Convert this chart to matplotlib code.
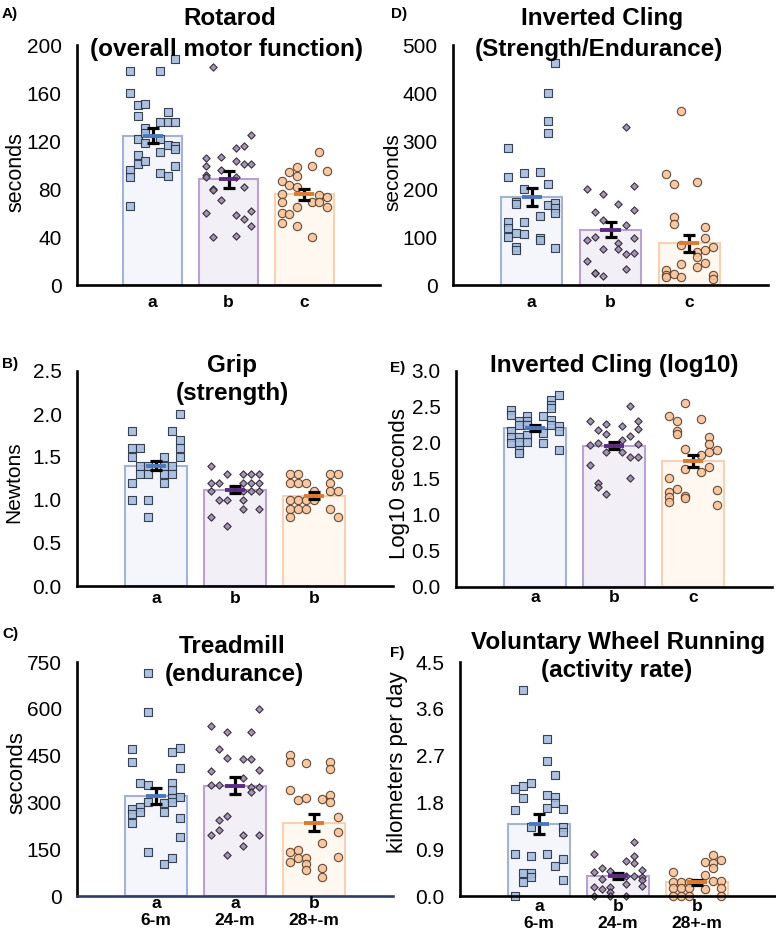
import matplotlib
matplotlib.use("Agg")
import matplotlib.pyplot as plt
import numpy as np
from matplotlib.transforms import blended_transform_factory

plt.rcParams['font.family'] = ['Liberation Sans', 'DejaVu Sans']

# ---------------- data ----------------
groups = ["6-m", "24-m", "28+-m"]

# A) Rotarod (seconds)
rot_6m = [178, 160, 96, 90, 66, 150, 141, 122, 108, 101, 151, 131, 127, 118, 103,
          178, 136, 122, 111, 93, 144, 136, 117, 91, 188, 136, 116, 113, 99]
rot_24m = [106, 99, 92, 90, 60, 182, 80, 79, 40, 107, 96, 71, 114, 103, 90, 58, 41,
           116, 101, 82, 55, 125, 101, 62, 49]
rot_28m = [87, 76, 69, 60, 52, 94, 83, 59, 98, 91, 82, 65, 49, 99, 69, 40,
           111, 75, 69, 95, 73, 65]
rot_mean = [124.5, 88, 75.6]
rot_sem = [6, 6.8, 4.5]
rot_letters = ["a", "b", "c"]

# B) Grip (Newtons)
grip_6m = [1.8, 1.6, 1.5, 1.2, 1.0, 1.6, 1.4, 1.3, 1.4, 1.3, 1.0, 0.8,
           1.5, 1.4, 1.3, 1.2, 1.8, 1.4, 1.3, 2.0, 1.7, 1.6, 1.5]
grip_24m = [1.4, 1.2, 1.1, 0.8, 1.2, 1.0, 1.3, 1.0, 0.7, 1.3, 1.2, 1.1, 1.0, 0.9,
            1.3, 1.2, 1.1, 1.3, 1.2, 1.1, 0.9]
grip_28m = [1.3, 1.2, 1.0, 0.9, 0.8, 1.3, 1.2, 1.0, 0.9, 1.2, 1.0, 0.9, 1.1, 1.0,
            1.3, 1.2, 1.1, 0.9, 1.3, 1.1, 0.8]
grip_mean = [1.40, 1.12, 1.05]
grip_sem = [0.05, 0.04, 0.04]
grip_letters = ["a", "b", "b"]

# C) Treadmill (seconds)
tread_6m = [471, 428, 279, 262, 235, 361, 286, 270, 714, 589, 356, 302, 142,
            297, 270, 102, 462, 361, 340, 313, 302, 123, 475, 409, 318, 249, 188]
tread_24m = [546, 402, 356, 196, 471, 356, 244, 212, 525, 443, 256, 131,
             438, 377, 196, 160, 525, 438, 348, 334, 599, 404, 350, 196]
tread_28m = [452, 428, 340, 140, 108, 308, 147, 121, 425, 315, 121, 102, 83,
             311, 169, 91, 60, 431, 407, 324, 302, 254, 206, 126]
tread_mean = [320, 353, 235]
tread_sem = [25, 27, 27]
tread_letters = ["a", "a", "b"]

# D) Inverted cling (seconds)
cling_6m = [285, 226, 132, 119, 101, 172, 168, 108, 80, 72, 233, 201, 131, 106,
            236, 144, 97, 94, 401, 342, 317, 210, 167, 463, 170, 160, 149, 78]
cling_24m = [199, 94, 49, 153, 99, 26, 24, 189, 135, 74, 19, 168, 88, 76,
             330, 125, 65, 33, 206, 156, 97, 66]
cling_28m = [231, 31, 21, 16, 210, 141, 128, 22, 363, 83, 43, 16, 214, 68, 58, 38,
             120, 97, 73, 46, 80, 21, 13]
cling_mean = [184, 115, 87]
cling_sem = [19, 16, 18]
cling_letters = ["a", "b", "c"]

# E) Inverted cling (log10 seconds)
log_6m = [2.46, 2.39, 2.16, 2.09, 2.00, 2.30, 2.25, 2.09, 2.02, 1.90, 1.86,
          2.37, 2.30, 2.25, 2.11, 2.02, 2.37, 2.14, 2.00,
          2.60, 2.53, 2.48, 2.32, 2.25, 2.66, 2.23, 2.16, 1.90]
log_24m = [2.30, 1.97, 1.69, 2.18, 2.00, 1.45, 1.39, 2.27, 2.13, 1.88, 1.29,
           2.23, 2.04, 1.88, 2.51, 2.10, 1.81, 1.52, 2.31, 2.19, 1.99, 1.81]
log_28m = [2.37, 1.51, 1.32, 1.25, 1.18, 2.31, 2.16, 2.12, 1.36,
           2.55, 1.91, 1.64, 1.26, 1.24, 2.33, 1.83, 1.60,
           2.08, 1.99, 1.88, 1.67, 1.90, 1.35, 1.14]
log_mean = [2.21, 1.96, 1.75]
log_sem = [0.045, 0.05, 0.09]
log_letters = ["a", "b", "c"]

# F) Voluntary wheel running (km per day)
wheel_6m = [2.05, 1.65, 0.81, 0.00, 3.97, 2.12, 1.88, 0.44, 0.26,
            2.18, 1.33, 0.77, 0.45, 0.37, 3.02, 2.60, 1.94, 1.70, 0.81,
            2.33, 1.91, 1.78, 0.58, 1.67, 1.33, 1.24, 0.71, 0.31]
wheel_24m = [0.80, 0.46, 0.18, 0.00, 0.53, 0.32, 0.13, 0.49, 0.18, 0.08, 0.00,
             0.67, 0.38, 0.23, 0.00, 1.04, 0.76, 0.64, 0.38, 0.50, 0.37, 0.30, 0.20]
wheel_28m = [0.47, 0.27, 0.15, 0.00, 0.27, 0.15, 0.00, 0.27, 0.15, 0.00,
             0.65, 0.40, 0.13, 0.79, 0.64, 0.53, 0.29, 0.69, 0.28, 0.15, 0.00]
wheel_mean = [1.38, 0.38, 0.26]
wheel_sem = [0.19, 0.06, 0.05]
wheel_letters = ["a", "b", "b"]

# jitter columns, one entry per point
rot_6m_j = [-3]*5 + [-2]*5 + [-1]*5 + [1]*5 + [2]*4 + [3]*5
rot_24m_j = [-3]*5 + [-2]*4 + [-1]*3 + [1]*5 + [2]*4 + [3]*4
rot_28m_j = [-3]*5 + [-2]*3 + [-1]*5 + [1]*3 + [2]*3 + [3]*3
grip_6m_j = [-3]*5 + [-2]*3 + [-1]*4 + [1]*4 + [2]*3 + [3]*4
grip_24m_j = [-3]*4 + [-2]*2 + [-1]*3 + [1]*5 + [2]*3 + [3]*4
grip_28m_j = [-3]*5 + [-2]*4 + [-1]*3 + [0]*2 + [2]*4 + [3]*3
tread_6m_j = [-3]*5 + [-2]*3 + [-1]*5 + [1]*3 + [2]*6 + [3]*5
tread_24m_j = [-3]*4 + [-2]*4 + [-1]*4 + [1]*4 + [2]*4 + [3]*4
tread_28m_j = [-3]*5 + [-2]*3 + [-1]*5 + [1]*4 + [2]*4 + [3]*3
cling_6m_j = [-3]*5 + [-2]*5 + [-1]*4 + [1]*4 + [2]*5 + [3]*5
cling_24m_j = [-3]*3 + [-2]*4 + [-1]*4 + [1]*3 + [2]*4 + [3]*4
cling_28m_j = [-3]*4 + [-2]*4 + [-1]*4 + [1]*4 + [2]*4 + [3]*3
log_6m_j = [-3]*5 + [-2]*6 + [-1]*5 + [1]*3 + [2]*5 + [3]*4
log_24m_j = [-3]*3 + [-2]*4 + [-1]*4 + [1]*3 + [2]*4 + [3]*4
log_28m_j = [-3]*5 + [-2]*4 + [-1]*5 + [1]*3 + [2]*4 + [3]*3
wheel_6m_j = [-3]*4 + [-2]*5 + [-1]*5 + [1]*5 + [2]*4 + [3]*5
wheel_24m_j = [-3]*4 + [-2]*3 + [-1]*4 + [1]*4 + [2]*4 + [3]*4
wheel_28m_j = [-3]*4 + [-2]*3 + [-1]*3 + [1]*3 + [2]*4 + [3]*4

# ---------------- style ----------------
W, H = 776, 934
fig = plt.figure(figsize=(W / 100, H / 100), dpi=100)

BAR_FILL = ['#F4F6FB', '#F3EFF7', '#FFF8F1']
BAR_EDGE = ['#A2B3D3', '#B9A1D1', '#F7D2B2']
PT_FILL = ['#A5BBDD', '#9A8AA9', '#F6C39C']
PT_EDGE = ['#263244', '#2A2230', '#5A3A24']
MARKERS = ['s', 'D', 'o']
MSIZE = [30, 14, 36]
MEAN_COL = ['#4A78BE', '#5B2B82', '#DD7A2F']


def axes_px(l, r, t, b):
    return fig.add_axes([l / W, 1 - b / H, (r - l) / W, (b - t) / H])


def text_px(x, y, s, **kw):
    return fig.text(x / W, 1 - y / H, s, **kw)


def draw(ax, vals, jits, means, sems, ymax, ystep, fmt, spine_color='black'):
    x = np.arange(3)
    ax.bar(x, means, width=0.78, color=BAR_FILL, edgecolor=BAR_EDGE,
           linewidth=1.5, zorder=1)
    for i in range(3):
        xs = x[i] + 0.1 * np.asarray(jits[i])
        ax.scatter(xs, vals[i], s=MSIZE[i], marker=MARKERS[i],
                   facecolor=PT_FILL[i], edgecolor=PT_EDGE[i], linewidth=0.8,
                   alpha=0.9, zorder=2, clip_on=False)
    ax.errorbar(x, means, yerr=sems, fmt='none', ecolor='black',
                elinewidth=2.3, capsize=4.5, capthick=2.3, zorder=3)
    for i in range(3):
        ax.plot([x[i] - 0.13, x[i] + 0.13], [means[i]] * 2, color=MEAN_COL[i],
                lw=2.8, solid_capstyle='butt', zorder=4)
    ax.set_xlim(-1, 3)
    ax.set_ylim(0, ymax)
    ticks = np.arange(0, ymax + ystep / 2, ystep)
    ax.set_yticks(ticks)
    ax.set_yticklabels([fmt.format(t) for t in ticks])
    ax.set_xticks([])
    ax.tick_params(axis='y', length=0, pad=11, labelsize=15)
    for s in ['top', 'right']:
        ax.spines[s].set_visible(False)
    ax.spines['left'].set_linewidth(1.9)
    ax.spines['bottom'].set_linewidth(1.9)
    ax.spines['bottom'].set_color(spine_color)
    ax.set_facecolor('none')


def xlabels(ax, letters, y1, y2=None):
    tr = blended_transform_factory(ax.transData, fig.transFigure)
    for i, l in enumerate(letters):
        ax.text(i, 1 - y1 / H, l, transform=tr, ha='center', va='baseline',
                fontsize=12.5, fontweight='bold')
        if y2 is not None:
            ax.text(i, 1 - y2 / H, groups[i], transform=tr, ha='center',
                    va='baseline', fontsize=12.5, fontweight='bold')


TFS = 17.5
PFS = 11

# A) Rotarod
axA = axes_px(77, 380, 45, 285)
draw(axA, [rot_6m, rot_24m, rot_28m], [rot_6m_j, rot_24m_j, rot_28m_j],
     rot_mean, rot_sem, 200, 40, "{:.0f}")
xlabels(axA, rot_letters, 307)
text_px(230, 25, "Rotarod", ha='center', va='baseline', fontsize=TFS, fontweight='bold')
text_px(227, 56, "(overall motor function)", ha='center', va='baseline', fontsize=TFS, fontweight='bold')
text_px(16, 172, "seconds", rotation=90, ha='center', va='center', fontsize=15.5)
text_px(2, 18, "A)", ha='left', va='baseline', fontsize=PFS, fontweight='bold')

# D) Inverted cling
axD = axes_px(453, 768, 45, 285)
draw(axD, [cling_6m, cling_24m, cling_28m], [cling_6m_j, cling_24m_j, cling_28m_j],
     cling_mean, cling_sem, 500, 100, "{:.0f}")
xlabels(axD, cling_letters, 307)
text_px(602, 25, "Inverted Cling", ha='center', va='baseline', fontsize=TFS, fontweight='bold')
text_px(599, 56, "(Strength/Endurance)", ha='center', va='baseline', fontsize=TFS, fontweight='bold')
text_px(393, 172, "seconds", rotation=90, ha='center', va='center', fontsize=15)
text_px(391, 18, "D)", ha='left', va='baseline', fontsize=PFS, fontweight='bold')

# B) Grip
axB = axes_px(77, 393, 371, 586)
draw(axB, [grip_6m, grip_24m, grip_28m], [grip_6m_j, grip_24m_j, grip_28m_j],
     grip_mean, grip_sem, 2.5, 0.5, "{:.1f}")
xlabels(axB, grip_letters, 603)
text_px(232, 372, "Grip", ha='center', va='baseline', fontsize=TFS, fontweight='bold')
text_px(232, 400, "(strength)", ha='center', va='baseline', fontsize=TFS, fontweight='bold')
text_px(14, 482, "Newtons", rotation=90, ha='center', va='center', fontsize=15)
text_px(2, 368, "B)", ha='left', va='baseline', fontsize=PFS, fontweight='bold')

# E) Inverted cling log10
axE = axes_px(456, 772, 371, 587)
draw(axE, [log_6m, log_24m, log_28m], [log_6m_j, log_24m_j, log_28m_j],
     log_mean, log_sem, 3.0, 0.5, "{:.1f}")
xlabels(axE, log_letters, 602)
text_px(614, 372, "Inverted Cling (log10)", ha='center', va='baseline', fontsize=TFS, fontweight='bold')
text_px(400, 484, "Log10 seconds", rotation=90, ha='center', va='center', fontsize=16)
text_px(390, 372, "E)", ha='left', va='baseline', fontsize=PFS, fontweight='bold')

# C) Treadmill
axC = axes_px(77, 393, 662, 896)
draw(axC, [tread_6m, tread_24m, tread_28m], [tread_6m_j, tread_24m_j, tread_28m_j],
     tread_mean, tread_sem, 750, 150, "{:.0f}", spine_color='#2C3C68')
xlabels(axC, tread_letters, 908, 925)
text_px(232, 653, "Treadmill", ha='center', va='baseline', fontsize=TFS, fontweight='bold')
text_px(234, 681, "(endurance)", ha='center', va='baseline', fontsize=TFS, fontweight='bold')
text_px(17, 773, "seconds", rotation=90, ha='center', va='center', fontsize=16)
text_px(2, 638, "C)", ha='left', va='baseline', fontsize=PFS, fontweight='bold')

# F) Voluntary wheel running
axF = axes_px(460, 776, 662, 896)
draw(axF, [wheel_6m, wheel_24m, wheel_28m], [wheel_6m_j, wheel_24m_j, wheel_28m_j],
     wheel_mean, wheel_sem, 4.5, 0.9, "{:.1f}")
xlabels(axF, wheel_letters, 911, 928)
text_px(618, 649, "Voluntary Wheel Running", ha='center', va='baseline', fontsize=TFS, fontweight='bold')
text_px(617, 677, "(activity rate)", ha='center', va='baseline', fontsize=TFS, fontweight='bold')
text_px(398, 762, "kilometers per day", rotation=90, ha='center', va='center', fontsize=16)
text_px(390, 657, "F)", ha='left', va='baseline', fontsize=PFS, fontweight='bold')

fig.savefig("out.png", dpi=100)
